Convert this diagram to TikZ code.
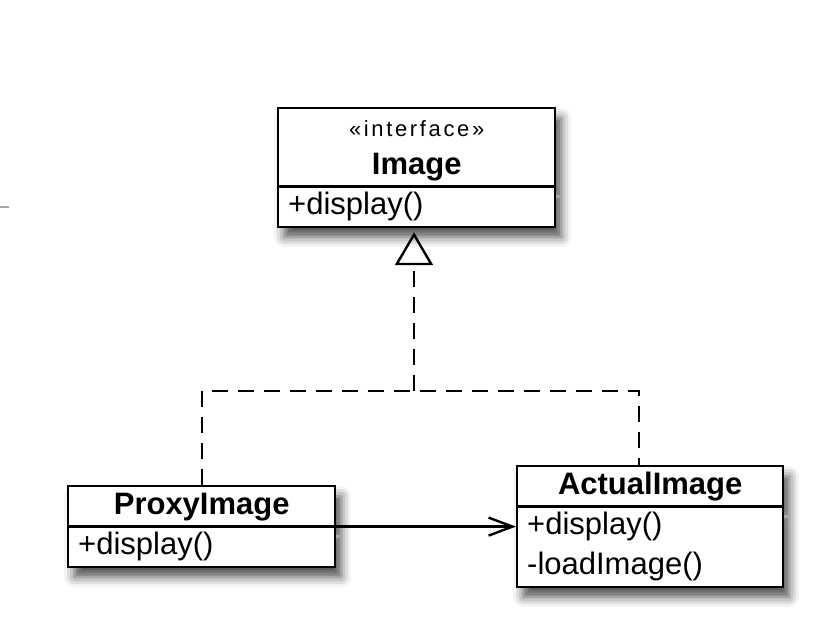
\documentclass[tikz,border=0pt]{standalone}
\usepackage{fontspec}
\setmainfont{Liberation Sans}
\usetikzlibrary{shapes.multipart,shadows.blur,arrows.meta}

\newcommand\clsstrut{\rule[-5.5pt]{0pt}{19pt}}
\newcommand\stereo[1]{{\fontsize{11}{19}\selectfont\addfontfeature{LetterSpace=12}#1}}

\tikzset{
  umlclass/.style={rectangle split, rectangle split parts=2, draw, fill=white,
    line width=1.2pt, inner xsep=5pt, inner ysep=0pt, anchor=north west,
    font=\fontsize{15.5}{19}\selectfont,
    blur shadow={shadow xshift=3pt, shadow yshift=-5pt, shadow blur radius=5pt, shadow opacity=70}},
  realize/.style={line width=1.2pt, dash pattern=on 8pt off 5pt},
  assoc/.style={line width=1.2pt, -{Straight Barb[length=12pt,width=9pt]}},
}

\begin{document}
\begin{tikzpicture}[x=0.5pt,y=-0.5pt]
\useasboundingbox (0,0) rectangle (824,638);

% class boxes
\node[umlclass, text width=128.5pt] (image) at (277,107)
  {\centering\clsstrut\stereo{«interface»}\\\clsstrut\textbf{Image}\par
   \nodepart{two}\clsstrut+display()};
\node[umlclass, text width=123.5pt] (proxy) at (67,485)
  {\centering\clsstrut\textbf{ProxyImage}\par
   \nodepart{two}\clsstrut+display()};
\node[umlclass, text width=123pt] (actual) at (516,465)
  {\centering\clsstrut\textbf{ActualImage}\par
   \nodepart{two}\baselineskip=20pt\clsstrut+display()\\\clsstrut-loadImage()\par};

% realization
\coordinate (join) at (414,391);
\coordinate (rjoin) at (639,391);
\draw[realize] (proxy.north) |- (rjoin) -- (rjoin |- actual.north);
\draw[realize, -{Triangle[open,length=16.5pt,width=19pt]}, shorten >=2pt] (join) -- (join |- image.south);

% association
\draw[assoc] (proxy.east) -- (proxy.east -| actual.west);

\draw[gray!70, line width=1.2pt] (0,207) -- (9,207);
\end{tikzpicture}
\end{document}
